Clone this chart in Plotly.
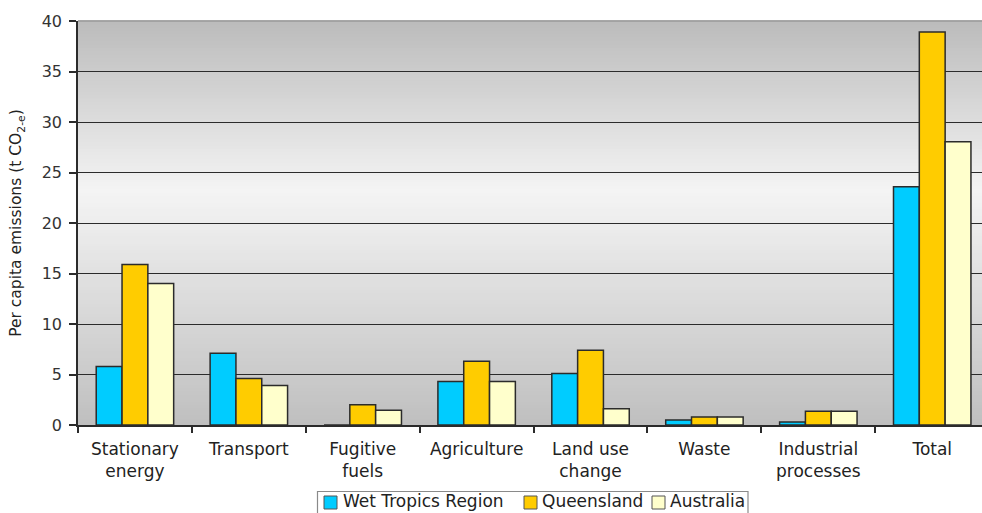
import plotly.graph_objects as go

categories = ["Stationary<br>energy", "Transport", "Fugitive<br>fuels", "Agriculture",
              "Land use<br>change", "Waste", "Industrial<br>processes", "Total"]
wet_tropics = [5.8, 7.1, 0.0, 4.3, 5.1, 0.5, 0.3, 23.6]
queensland = [15.9, 4.6, 2.0, 6.3, 7.4, 0.8, 1.35, 38.9]
australia = [14.0, 3.9, 1.45, 4.3, 1.6, 0.8, 1.35, 28.05]
series_names = ["Wet Tropics Region", "Queensland", "Australia"]
y_ticks = [0, 5, 10, 15, 20, 25, 30, 35, 40]

colors = ["#00CCFF", "#FFCC00", "#FFFFCC"]
EDGE = "#2b2b2b"
FONT = "DejaVu Sans, Verdana, sans-serif"

W, H = 982, 513
ML, MR, MT, MB = 78, 0, 21, 88
PW, PH = W - ML - MR, H - MT - MB

def px_x(px):
    return (px - ML) / PW

def px_y(py):
    return (H - MB - py) / PH

fig = go.Figure()
for name, vals, col in zip(series_names, [wet_tropics, queensland, australia], colors):
    fig.add_trace(go.Bar(x=categories, y=vals, name=name,
                         marker=dict(color=col, line=dict(color=EDGE, width=1.5))))

# vertical gradient background (dark - light - dark)
shapes = []
N = 120
def shade(t):
    peak = 0.58
    lo, hi = 191, 244
    if t <= peak:
        v = lo + (hi - lo) * (t / peak)
    else:
        v = hi - (hi - lo + 4) * ((t - peak) / (1 - peak))
    v = int(round(v))
    return f"rgb({v},{v},{v})"
for i in range(N):
    t = (i + 0.5) / N
    shapes.append(dict(type="rect", xref="paper", yref="paper", x0=0, x1=1,
                       y0=i / N, y1=(i + 1) / N + 0.002, fillcolor=shade(t),
                       line=dict(width=0), layer="below"))
# lighter top border of plot area
shapes.append(dict(type="line", xref="paper", yref="paper", x0=0, x1=1, y0=1, y1=1,
                   line=dict(color="#9a9a9a", width=1.5), layer="above"))

# custom legend (box, swatches, labels)
annotations = []
shapes.append(dict(type="rect", xref="paper", yref="paper",
                   x0=px_x(317.5), x1=px_x(748), y0=px_y(491.5), y1=px_y(540),
                   fillcolor="white", line=dict(color="#8a8a8a", width=1.2), layer="above"))
swatch_right = [337, 537, 665]
text_left = [340.5, 540, 668]
for name, col, sr, tl in zip(series_names, colors, swatch_right, text_left):
    shapes.append(dict(type="rect", xref="paper", yref="paper",
                       x0=px_x(sr - 13), x1=px_x(sr), y0=px_y(509), y1=px_y(496),
                       fillcolor=col, line=dict(color="#555", width=1), layer="above"))
    annotations.append(dict(text=name, xref="paper", yref="paper", x=px_x(tl), y=px_y(501),
                            xanchor="left", yanchor="middle", showarrow=False,
                            font=dict(family=FONT, size=17, color="#222")))

fig.update_layout(
    width=W, height=H,
    margin=dict(l=ML, r=MR, t=MT, b=MB, autoexpand=False),
    paper_bgcolor="white", plot_bgcolor="#d8d8d8",
    shapes=shapes, annotations=annotations,
    barmode="group", bargap=0.32, bargroupgap=0,
    font=dict(family=FONT, size=17, color="#222"),
    showlegend=False,
)
fig.update_xaxes(range=[-0.5, 7.437], showline=True, linecolor=EDGE, linewidth=1.5,
                 ticks="outside", tickson="boundaries", ticklen=6, tickcolor=EDGE,
                 tickwidth=1.5, showgrid=False, ticklabelstandoff=8,
                 tickfont=dict(family=FONT, size=17, color="#222"))
fig.update_yaxes(range=[0, 40], tickvals=y_ticks, showline=True, linecolor=EDGE,
                 linewidth=1.5, ticks="outside", ticklen=7, tickcolor=EDGE, tickwidth=1.5,
                 showgrid=True, gridcolor=EDGE, gridwidth=1.4, zeroline=False,
                 ticklabelstandoff=4,
                 tickfont=dict(family=FONT, size=16, color="#333"),
                 title=dict(text="Per capita emissions (t CO<sub>2-e</sub>)",
                            font=dict(family=FONT, size=15.5, color="#222"), standoff=16))

fig.write_html("out.html")
